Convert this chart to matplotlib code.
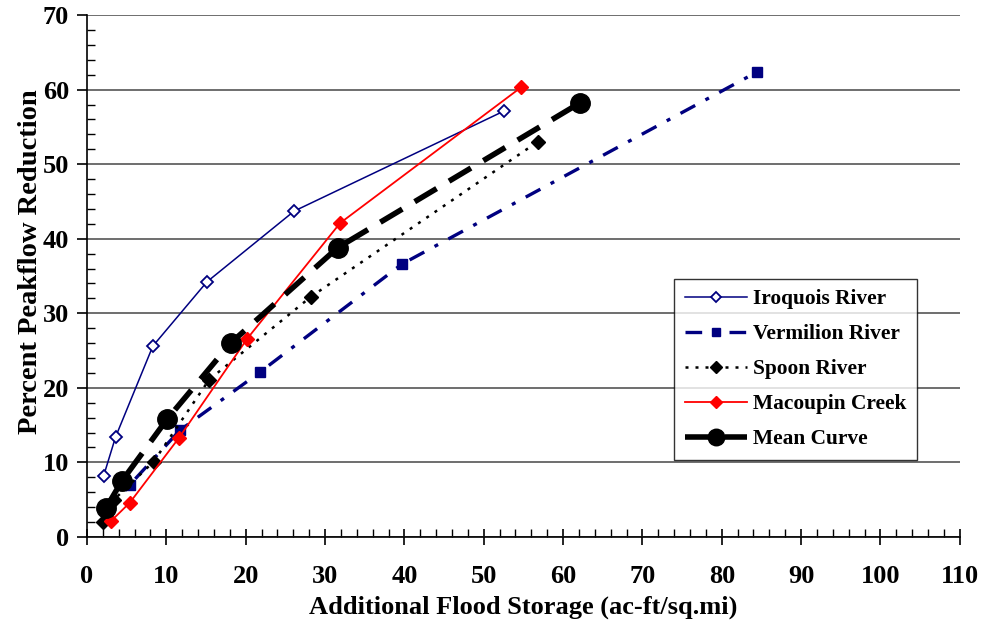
import numpy as np
import matplotlib.pyplot as plt
from matplotlib.ticker import MultipleLocator

# storage (ac-ft/sq.mi) vs percent peakflow reduction for each watershed
iroquois_x = [2.1, 3.6, 8.3, 15.1, 26.1, 52.5]
iroquois_y = [8.2, 13.4, 25.6, 34.2, 43.7, 57.1]

vermilion_x = [2.5, 5.4, 11.7, 21.8, 39.7, 84.5]
vermilion_y = [3.3, 7.0, 14.3, 22.1, 36.6, 62.4]

spoon_x = [2.0, 3.4, 8.4, 15.4, 28.2, 56.8]
spoon_y = [2.0, 5.0, 10.1, 21.1, 32.2, 53.0]

macoupin_x = [3.0, 5.4, 11.6, 20.2, 31.9, 54.7]
macoupin_y = [2.1, 4.6, 13.3, 26.6, 42.1, 60.3]

mean_x = [2.4, 4.4, 10.1, 18.1, 31.6, 62.1]
mean_y = [3.9, 7.5, 15.8, 26.0, 38.8, 58.2]

plt.rcParams['font.family'] = ['Liberation Serif', 'DejaVu Serif']
plt.rcParams['font.weight'] = 'bold'

navy = '#000080'

fig = plt.figure(figsize=(9.84, 6.28), dpi=100)
ax = fig.add_axes([0.0884, 0.145, 0.887, 0.831])

ax.plot(iroquois_x, iroquois_y, color=navy, lw=1.1, marker='D', ms=6.5,
        mfc='white', mec=navy, mew=1.3, label='Iroquois River', zorder=3)
ax.plot(vermilion_x, vermilion_y, color=navy, lw=2.4, marker='s', ms=7,
        dashes=(5, 3.5, 1.2, 3.5), label='Vermilion River', zorder=3)
ax.plot(spoon_x, spoon_y, color='black', lw=1.8, marker='D', ms=7,
        dashes=(1.2, 2.8), label='Spoon River', zorder=3)
ax.plot(macoupin_x, macoupin_y, color='red', lw=1.3, marker='D', ms=7.5,
        label='Macoupin Creek', zorder=3)
ax.plot(mean_x, mean_y, color='black', lw=4, marker='o', ms=14,
        dashes=(4.6, 2.6), label='Mean Curve', zorder=4)

ax.set_xlim(0, 110)
ax.set_ylim(0, 70)
ax.xaxis.set_major_locator(MultipleLocator(10))
ax.xaxis.set_minor_locator(MultipleLocator(2))
ax.yaxis.set_major_locator(MultipleLocator(10))
ax.yaxis.set_minor_locator(MultipleLocator(2))

ax.spines['top'].set_visible(False)
ax.spines['right'].set_visible(False)
for s in ('left', 'bottom'):
    ax.spines[s].set_linewidth(1.2)

ax.tick_params(axis='x', which='major', direction='inout', length=12, width=1.2,
               labelsize=19, pad=14)
ax.tick_params(axis='x', which='minor', direction='in', length=6, width=1)
ax.tick_params(axis='y', which='major', direction='out', length=7, width=1.2,
               labelsize=19, pad=6)
ax.tick_params(axis='y', which='minor', direction='in', length=6, width=1)

ax.yaxis.grid(True, which='major', color='#6e6e6e', lw=1.4)
ax.set_axisbelow(True)

ax.set_xlabel('Additional Flood Storage (ac-ft/sq.mi)', fontsize=19,
              fontweight='bold', labelpad=6)
ax.set_ylabel('Percent Peakflow Reduction', fontsize=20.5, fontweight='bold')
ax.yaxis.set_label_coords(-0.05, 0.528)

leg = ax.legend(loc='lower right', bbox_to_anchor=(0.951, 0.1475),
                fontsize=15.4, frameon=True, fancybox=False, handlelength=2.9,
                labelspacing=0.7, borderpad=0.5, handletextpad=0.3,
                markerscale=0.85, borderaxespad=0)
leg.get_frame().set_edgecolor('black')
leg.get_frame().set_linewidth(1.0)
for t in leg.get_texts():
    t.set_fontweight('bold')

fig.savefig('out.png', dpi=100)
